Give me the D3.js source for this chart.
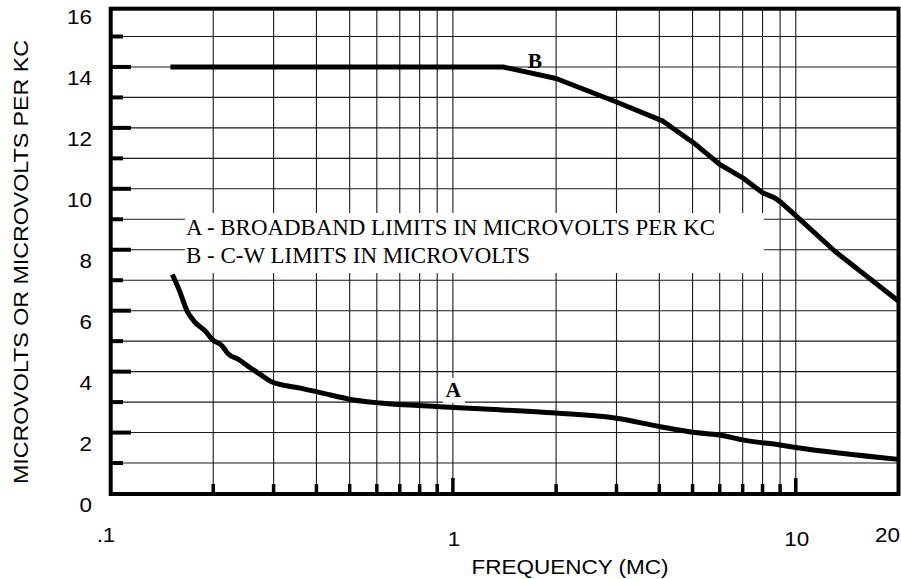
<!DOCTYPE html>
<html>
<head>
<meta charset="utf-8">
<script src="https://cdn.jsdelivr.net/npm/d3@7"></script>
<style>
  html, body { margin: 0; padding: 0; background: #fff; }
  svg { display: block; }
</style>
</head>
<body>
<svg id="chart" width="901" height="579"></svg>
<script>
// Curve A: broadband limits, microvolts per kc, against frequency in mc
const freqA  = [0.152, 0.159, 0.168, 0.176, 0.19, 0.199, 0.213, 0.22, 0.238, 0.257, 0.275, 0.294, 0.311,
                0.359, 0.411, 0.514, 0.614, 0.918, 1.2, 2, 3, 4, 5, 6, 7, 9, 10, 20];
const valueA = [7.19, 6.69, 5.98, 5.65, 5.32, 5.05, 4.83, 4.61, 4.39, 4.12, 3.9, 3.68, 3.59,
                3.46, 3.31, 3.07, 2.97, 2.85, 2.78, 2.64, 2.47, 2.2, 2.01, 1.92, 1.76, 1.59, 1.51, 1.12];

// Curve B: C-W limits, microvolts
const freqB  = [0.15, 1.4, 2, 3, 4.1, 5.1, 6, 7, 8, 8.65, 9, 10, 13, 20];
const valueB = [14, 14, 13.62, 12.85, 12.22, 11.46, 10.8, 10.36, 9.87, 9.71, 9.58, 9.12, 7.95, 6.3];

// Axis labelling
const yTickValues = [0, 2, 4, 6, 8, 10, 12, 14, 16];
const xTickValues = [0.1, 1, 10, 20];
const xTickText   = [".1", "1", "10", "20"];
const legendLines = ["A - BROADBAND LIMITS IN MICROVOLTS PER KC", "B - C-W LIMITS IN MICROVOLTS"];
const xTitle = "FREQUENCY (MC)";
const yTitle = "MICROVOLTS OR MICROVOLTS PER KC";

(function draw() {
  const svg = d3.select("#chart");
  const sans = "'Liberation Sans', Arial, Helvetica, sans-serif";
  const serif = "'Liberation Serif', 'Times New Roman', Times, serif";

  const x = d3.scaleLog().domain([0.1, 20]).range([110, 899]);
  const y = d3.scaleLinear().domain([0, 16]).range([493.5, 6]);

  const fL = 110.7, fR = 898.5, fT = 8.7, fB = 494;

  // widen sans text slightly, like the lettering on the original sheet
  function stretch(sel, k) {
    sel.each(function () {
      const w = this.getComputedTextLength();
      d3.select(this).attr("textLength", w * k).attr("lengthAdjust", "spacingAndGlyphs");
    });
  }

  // grid
  const grid = svg.append("g").attr("stroke", "#1a1a1a").attr("stroke-width", 1.1);
  const vTicks = x.ticks().filter(f => f > 0.1 && f < 20);
  grid.selectAll("line.v").data(vTicks).join("line")
    .attr("class", "v")
    .attr("x1", d => x(d)).attr("x2", d => x(d))
    .attr("y1", fT).attr("y2", fB);
  const hTicks = d3.range(1, 16);
  grid.selectAll("line.h").data(hTicks).join("line")
    .attr("class", "h")
    .attr("x1", fL).attr("x2", fR)
    .attr("y1", d => y(d)).attr("y2", d => y(d));

  // legend panel knocks out the grid behind it
  svg.append("rect").attr("x", 185).attr("y", 213).attr("width", 579).attr("height", 60).attr("fill", "#fff");
  const legendWidths = [529, 344];
  svg.append("g").attr("font-family", serif).attr("font-size", 22.7).attr("fill", "#000")
    .selectAll("text").data(legendLines).join("text")
    .attr("x", 186)
    .attr("y", (d, i) => 235 + i * 28.3)
    .attr("textLength", (d, i) => legendWidths[i]).attr("lengthAdjust", "spacingAndGlyphs")
    .text(d => d);

  // frame
  svg.append("rect")
    .attr("x", fL).attr("y", fT)
    .attr("width", fR - fL).attr("height", fB - fT)
    .attr("fill", "none").attr("stroke", "#000").attr("stroke-width", 4);

  // left axis ticks (inward): long at even values, short at odd
  svg.append("g").attr("stroke", "#000").attr("stroke-width", 4)
    .selectAll("line").data(d3.range(1, 16)).join("line")
    .attr("x1", fL).attr("x2", d => d % 2 === 0 ? 131 : 123)
    .attr("y1", d => y(d)).attr("y2", d => y(d));

  // bottom axis ticks (inward): long at decades
  svg.append("g").attr("stroke", "#000").attr("stroke-width", 3.5)
    .selectAll("line").data(vTicks).join("line")
    .attr("x1", d => x(d)).attr("x2", d => x(d))
    .attr("y1", fB)
    .attr("y2", d => (d === 1 || d === 10) ? 478 : 484);

  // white backing under the "A" tag, cutting the grid around it
  svg.append("rect").attr("x", x(1) - 10).attr("y", y(3.17) - 19).attr("width", 22).attr("height", 25).attr("fill", "#fff");

  // curves: A drawn smooth, B as ruled segments
  const lineA = d3.line().x(d => x(d[0])).y(d => y(d[1])).curve(d3.curveMonotoneX);
  const lineB = d3.line().x(d => x(d[0])).y(d => y(d[1])).curve(d3.curveLinear);
  const curveG = svg.append("g").attr("fill", "none").attr("stroke", "#000")
    .attr("stroke-width", 5).attr("stroke-linejoin", "round");
  curveG.append("path").datum(d3.zip(freqA, valueA)).attr("d", lineA);
  curveG.append("path").datum(d3.zip(freqB, valueB)).attr("d", lineB);

  // curve tags
  const tags = [
    { t: "A", f: 1.0, v: 3.17 },
    { t: "B", f: 1.73, v: 13.96 }
  ];
  svg.append("g").selectAll("text").data(tags).join("text")
    .attr("x", d => x(d.f) + 0.5).attr("y", d => y(d.v))
    .attr("text-anchor", "middle")
    .attr("font-family", serif).attr("font-weight", "bold").attr("font-size", 21.5)
    .text(d => d.t);

  // y tick labels
  const yLab = svg.append("g").attr("font-family", sans).attr("font-size", 20).attr("fill", "#000")
    .selectAll("text").data(yTickValues).join("text")
    .attr("x", 92).attr("y", d => y(d) + 18)
    .attr("text-anchor", "end")
    .text(d => d);
  stretch(yLab, 1.12);

  // x tick labels
  const xLab = svg.append("g").attr("font-family", sans).attr("font-size", 20).attr("fill", "#000")
    .selectAll("text").data(xTickValues).join("text")
    .attr("x", (d, i) => i === 3 ? x(d) + 1 : x(d) - (i === 0 ? 4 : -1))
    .attr("y", (d, i) => (i === 0 || i === 3) ? 542 : 546)
    .attr("text-anchor", (d, i) => i === 3 ? "end" : "middle")
    .text((d, i) => xTickText[i]);
  stretch(xLab, 1.12);

  // axis titles
  svg.append("text")
    .attr("x", 570).attr("y", 574)
    .attr("text-anchor", "middle")
    .attr("font-family", sans).attr("font-size", 20).attr("fill", "#000")
    .attr("textLength", 197).attr("lengthAdjust", "spacingAndGlyphs")
    .text(xTitle);

  svg.append("text")
    .attr("transform", "translate(28,262) rotate(-90)")
    .attr("text-anchor", "middle")
    .attr("font-family", sans).attr("font-size", 20).attr("fill", "#000")
    .attr("textLength", 444).attr("lengthAdjust", "spacingAndGlyphs")
    .text(yTitle);
})();
</script>
</body>
</html>
